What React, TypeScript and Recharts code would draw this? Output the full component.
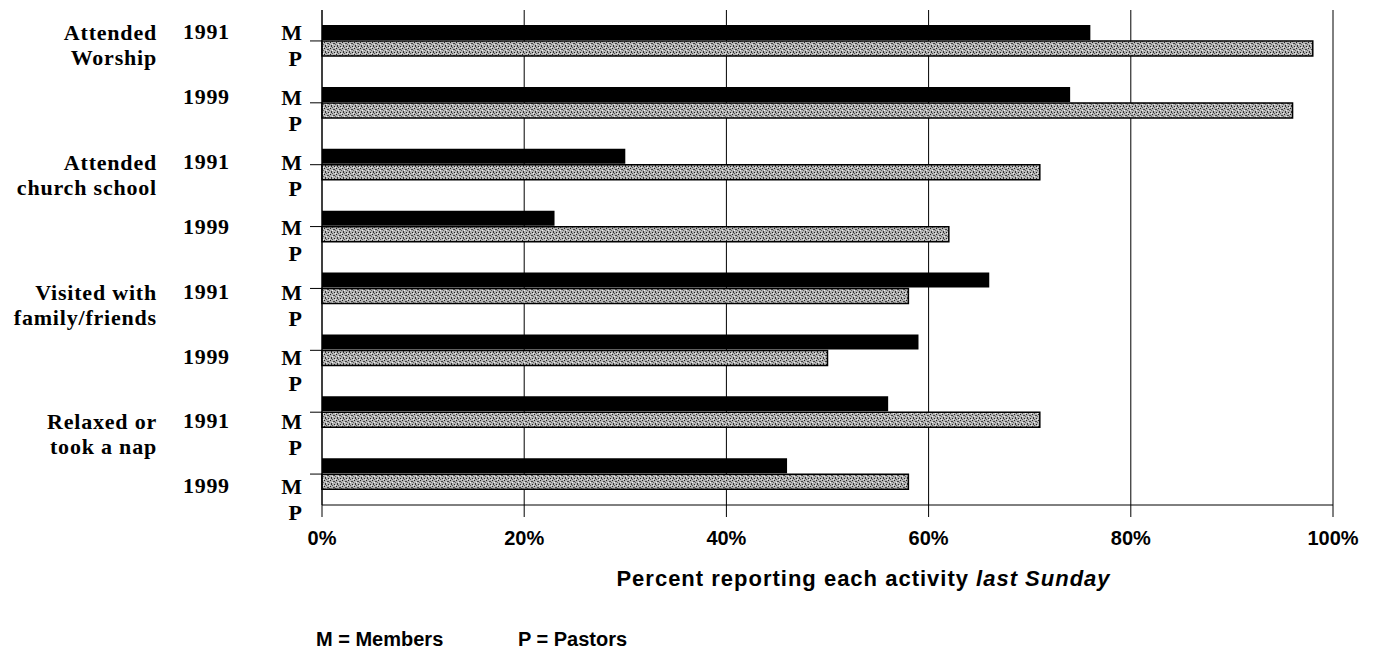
import React from 'react';
import { BarChart, Bar, XAxis, YAxis, CartesianGrid, Legend, Label } from 'recharts';

// activity names, split the way they are typeset on the left
const activityLines = [
  ['Attended', 'Worship'],
  ['Attended', 'church school'],
  ['Visited with', 'family/friends'],
  ['Relaxed or', 'took a nap'],
];
const surveyYears = ['1991', '1999'];

// percent reporting each activity, one value per activity/year row
const membersPct = [76, 74, 30, 23, 66, 59, 56, 46];
const pastorsPct = [98, 96, 71, 62, 58, 50, 71, 58];

const percentTicks = [0, 20, 40, 60, 80, 100];

const rows = membersPct.map((m, i) => ({
  key: `${activityLines[Math.floor(i / 2)].join(' ')} ${surveyYears[i % 2]}`,
  members: m,
  pastors: pastorsPct[i],
}));

const serif = '"Liberation Serif", "Times New Roman", serif';
const sans = '"Liberation Sans", Arial, sans-serif';

// left labels: activity, year, and the M / P markers
const RowTick = ({ y, payload }: any) => {
  const i = rows.findIndex((r) => r.key === payload.value);
  if (i < 0) return null;
  // the printed labels run on a slightly looser pitch than the bars
  const cy = y * 1.048 - 9.9;
  const base = 7.3;
  const txt = { fontFamily: serif, fontWeight: 700, fontSize: 22, fill: '#000' };
  return (
    <g>
      {i % 2 === 0 &&
        activityLines[i / 2].map((line, k) => (
          <text key={k} x={157} y={cy + base + k * 25} textAnchor="end" letterSpacing={0.8} {...txt}>
            {line}
          </text>
        ))}
      <text x={183} y={cy + base - 1} letterSpacing={0.7} {...txt}>
        {surveyYears[i % 2]}
      </text>
      <text x={302} y={cy + base} textAnchor="end" {...txt}>
        M
      </text>
      <text x={302} y={cy + base + 26} textAnchor="end" {...txt}>
        P
      </text>
    </g>
  );
};

const AxisTitle = ({ viewBox }: any) => {
  const { x, y, width } = viewBox;
  return (
    <text
      x={x + width / 2 + 36}
      y={y + 81}
      textAnchor="middle"
      fontFamily={sans}
      fontWeight={700}
      fontSize={22}
      letterSpacing={1}
      fill="#000"
    >
      Percent reporting each activity <tspan fontStyle="italic">last Sunday</tspan>
    </text>
  );
};

const KeyLegend = () => (
  <div style={{ fontFamily: sans, fontWeight: 700, fontSize: 20, lineHeight: '20px', whiteSpace: 'nowrap', color: '#000' }}>
    <span style={{ position: 'absolute', left: 0, top: 0 }}>M = Members</span>
    <span style={{ position: 'absolute', left: 202, top: 0 }}>P = Pastors</span>
  </div>
);

export default function App() {
  return (
    <div style={{ position: 'absolute', left: 0, top: 0, width: 1373, height: 652, overflow: 'hidden', background: '#fff' }}>
      <BarChart
        width={1373}
        height={652}
        data={rows}
        layout="vertical"
        margin={{ top: 10, right: 40, bottom: 107, left: 0 }}
        barSize={15}
        barGap={1}
      >
        <defs>
          {/* grainy grey fill of the Pastors bars */}
          <pattern id="pastorDots" width="6" height="6" patternUnits="userSpaceOnUse">
            <rect width="6" height="6" fill="#b4b4b4" />
            <rect x="0" y="0" width="1" height="1" fill="#222" />
            <rect x="3" y="1" width="2" height="1" fill="#444" />
            <rect x="1" y="3" width="1" height="2" fill="#333" />
            <rect x="4" y="4" width="1" height="1" fill="#222" />
            <rect x="2" y="5" width="1" height="1" fill="#555" />
            <rect x="5" y="2" width="1" height="1" fill="#666" />
            <rect x="2" y="2" width="1" height="1" fill="#eee" />
            <rect x="5" y="5" width="1" height="1" fill="#eee" />
          </pattern>
        </defs>
        <CartesianGrid stroke="#000" horizontal={false} />
        <XAxis
          type="number"
          domain={[0, 100]}
          ticks={percentTicks}
          tickFormatter={(v) => `${v}%`}
          height={40}
          tickSize={12}
          tickMargin={14}
          axisLine={{ stroke: '#000' }}
          tickLine={{ stroke: '#000' }}
          tick={{ fill: '#000', fontFamily: sans, fontWeight: 700, fontSize: 20 }}
        >
          <Label content={AxisTitle as any} />
        </XAxis>
        <YAxis
          type="category"
          dataKey="key"
          width={322}
          interval={0}
          tickSize={12}
          axisLine={{ stroke: '#000' }}
          tickLine={{ stroke: '#000' }}
          tick={<RowTick />}
        />
        <Legend
          layout="horizontal"
          verticalAlign="middle"
          align="center"
          content={<KeyLegend />}
          wrapperStyle={{ left: 316, top: 629, width: 340, height: 22 }}
        />
        <Bar dataKey="members" name="M = Members" fill="#000" isAnimationActive={false} />
        <Bar
          dataKey="pastors"
          name="P = Pastors"
          fill="url(#pastorDots)"
          stroke="#000"
          strokeWidth={1.5}
          isAnimationActive={false}
        />
      </BarChart>
    </div>
  );
}
